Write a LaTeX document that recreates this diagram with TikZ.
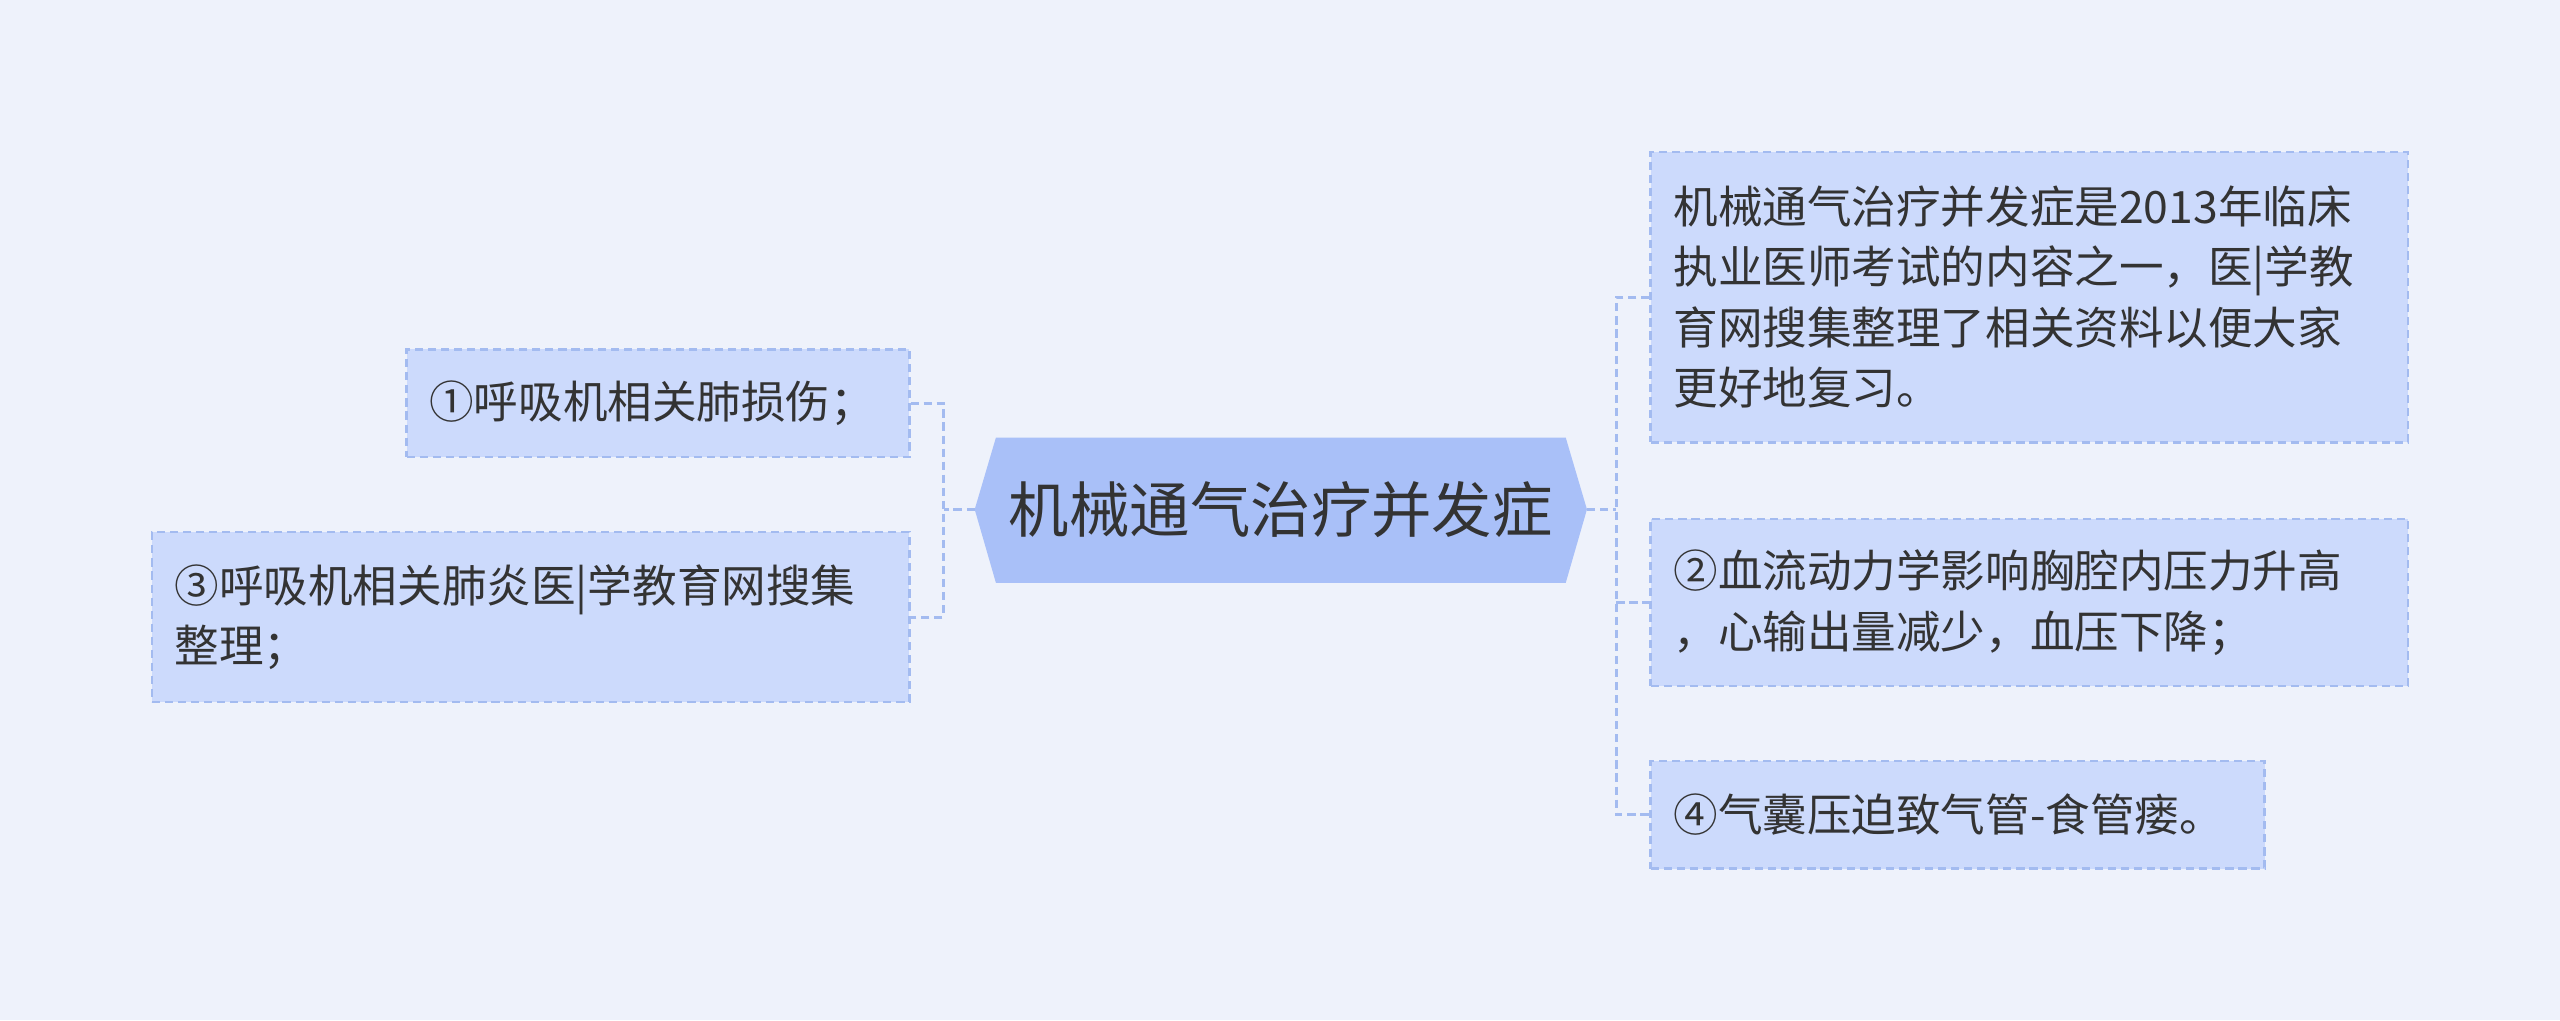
\documentclass[tikz,border=0pt]{standalone}
\usepackage{fontspec}
\setmainfont{Noto Sans CJK SC}
\definecolor{bg}{HTML}{EEF2FB}
\definecolor{cfill}{HTML}{A9C0F8}
\definecolor{lfill}{HTML}{CCDAFC}
\definecolor{lline}{HTML}{A3BBF0}
\definecolor{txt}{HTML}{333333}
\tikzset{
 leaf/.style={draw=lline,dash pattern=on 5pt off 3pt,line width=1.5pt,fill=lfill,inner xsep=14pt,inner ysep=0pt,align=left,text=txt,font=\fontsize{27.3}{37}\selectfont},
 conn/.style={draw=lline,dash pattern=on 5pt off 3pt,line width=2pt},
}
\begin{document}
\begin{tikzpicture}[x=1pt,y=-1pt]
\useasboundingbox[fill=bg] (0,0) rectangle (1568,625);
\fill[cfill] (597,312) -- (610,268) -- (959,268) -- (972,312) -- (959,357) -- (610,357) -- cycle;
\node[text=txt,font=\fontsize{37}{42}\selectfont] (c) at (784.5,312) {机械通气治疗并发症};
\coordinate (cl) at (597,312); \coordinate (cr) at (972,312);
\node[leaf,minimum width=308pt,minimum height=66pt,text width=280pt] (a) at (403,247) {①呼吸机相关肺损伤；};
\node[leaf,minimum width=464pt,minimum height=104pt,text width=436pt] (b) at (325,378) {③呼吸机相关肺炎医|学教育网搜集\\整理；};
\node[leaf,minimum width=464pt,minimum height=178pt,text width=436pt] (d) at (1243,182) {机械通气治疗并发症是2013年临床\\执业医师考试的内容之一，医|学教\\育网搜集整理了相关资料以便大家\\更好地复习。};
\node[leaf,minimum width=464pt,minimum height=102pt,text width=436pt] (e) at (1243,369) {②血流动力学影响胸腔内压力升高\\，心输出量减少，血压下降；};
\node[leaf,minimum width=376pt,minimum height=66pt,text width=348pt] (f) at (1199,499) {④气囊压迫致气管-食管瘘。};
\draw[conn] (cl) -- (578,312);
\draw[conn] (a.east) -| (578,312) |- (b.east);
\draw[conn] (cr) -- (990,312);
\draw[conn] (d.west) -| (990,312) |- (f.west);
\draw[conn] (990,369) -- (e.west);
\end{tikzpicture}
\end{document}
